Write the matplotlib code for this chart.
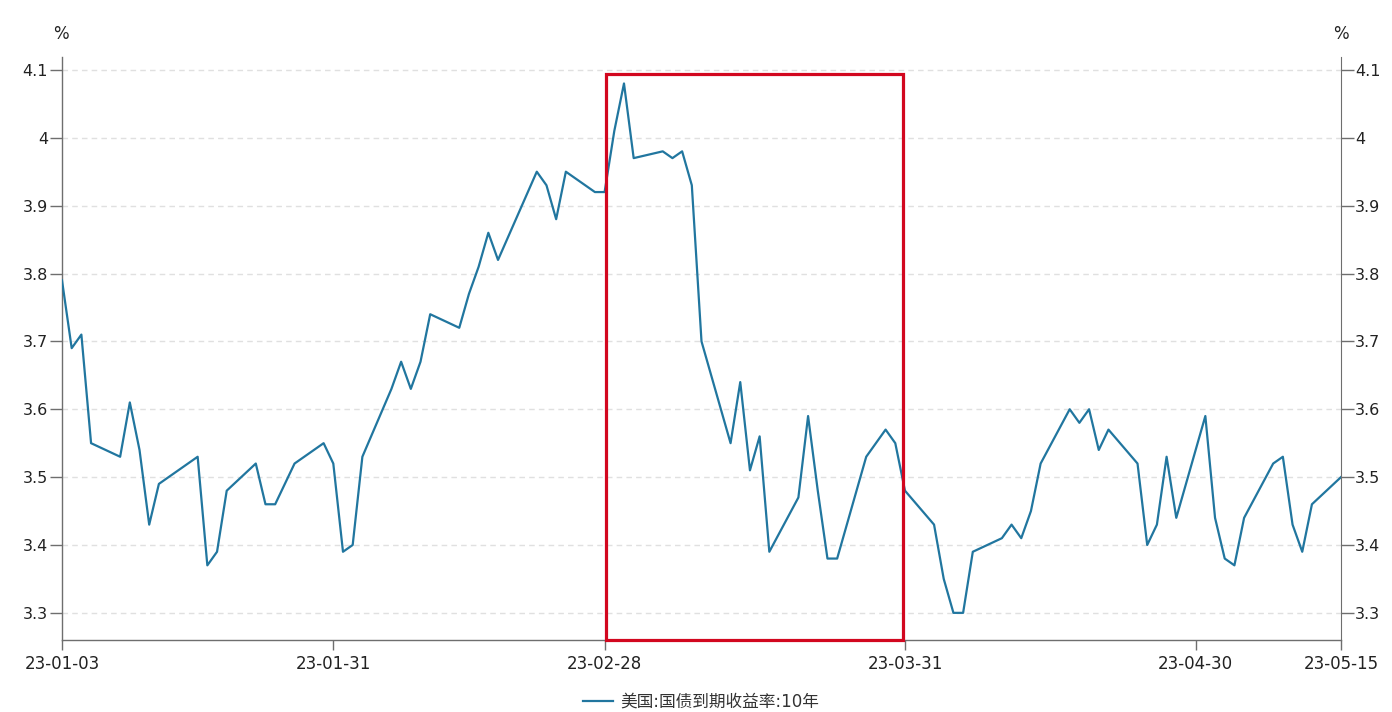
import matplotlib
matplotlib.use("Agg")
import matplotlib.pyplot as plt
import matplotlib.dates as mdates
from matplotlib.patches import Rectangle
import pandas as pd

plt.rcParams['font.family'] = ['DejaVu Sans', 'Noto Sans CJK SC']

# US 10y treasury yield
dates = [
    "2023-01-03", "2023-01-04", "2023-01-05", "2023-01-06", "2023-01-09", "2023-01-10",
    "2023-01-11", "2023-01-12", "2023-01-13", "2023-01-17", "2023-01-18", "2023-01-19",
    "2023-01-20", "2023-01-23", "2023-01-24", "2023-01-25", "2023-01-26", "2023-01-27",
    "2023-01-30", "2023-01-31", "2023-02-01", "2023-02-02", "2023-02-03", "2023-02-06",
    "2023-02-07", "2023-02-08", "2023-02-09", "2023-02-10", "2023-02-13", "2023-02-14",
    "2023-02-15", "2023-02-16", "2023-02-17", "2023-02-21", "2023-02-22", "2023-02-23",
    "2023-02-24", "2023-02-27", "2023-02-28", "2023-03-01", "2023-03-02", "2023-03-03",
    "2023-03-06", "2023-03-07", "2023-03-08", "2023-03-09", "2023-03-10", "2023-03-13",
    "2023-03-14", "2023-03-15", "2023-03-16", "2023-03-17", "2023-03-20", "2023-03-21",
    "2023-03-22", "2023-03-23", "2023-03-24", "2023-03-27", "2023-03-28", "2023-03-29",
    "2023-03-30", "2023-03-31", "2023-04-03", "2023-04-04", "2023-04-05", "2023-04-06",
    "2023-04-07", "2023-04-10", "2023-04-11", "2023-04-12", "2023-04-13", "2023-04-14",
    "2023-04-17", "2023-04-18", "2023-04-19", "2023-04-20", "2023-04-21", "2023-04-24",
    "2023-04-25", "2023-04-26", "2023-04-27", "2023-04-28", "2023-05-01", "2023-05-02",
    "2023-05-03", "2023-05-04", "2023-05-05", "2023-05-08", "2023-05-09", "2023-05-10",
    "2023-05-11", "2023-05-12", "2023-05-15",
]
yields = [
    3.79, 3.69, 3.71, 3.55, 3.53, 3.61,
    3.54, 3.43, 3.49, 3.53, 3.37, 3.39,
    3.48, 3.52, 3.46, 3.46, 3.49, 3.52,
    3.55, 3.52, 3.39, 3.40, 3.53, 3.63,
    3.67, 3.63, 3.67, 3.74, 3.72, 3.77,
    3.81, 3.86, 3.82, 3.95, 3.93, 3.88,
    3.95, 3.92, 3.92, 4.01, 4.08, 3.97,
    3.98, 3.97, 3.98, 3.93, 3.70, 3.55,
    3.64, 3.51, 3.56, 3.39, 3.47, 3.59,
    3.48, 3.38, 3.38, 3.53, 3.55, 3.57,
    3.55, 3.48, 3.43, 3.35, 3.30, 3.30,
    3.39, 3.41, 3.43, 3.41, 3.45, 3.52,
    3.60, 3.58, 3.60, 3.54, 3.57, 3.52,
    3.40, 3.43, 3.53, 3.44, 3.59, 3.44,
    3.38, 3.37, 3.44, 3.52, 3.53, 3.43,
    3.39, 3.46, 3.50,
]
xtick_dates = ["2023-01-03", "2023-01-31", "2023-02-28", "2023-03-31", "2023-04-30", "2023-05-15"]
yticks = [3.3, 3.4, 3.5, 3.6, 3.7, 3.8, 3.9, 4.0, 4.1]
ytick_labels = ["3.3", "3.4", "3.5", "3.6", "3.7", "3.8", "3.9", "4", "4.1"]
highlight = ["2023-02-28", "2023-03-31"]
series_name = "美国:国债到期收益率:10年"

x = pd.to_datetime(dates)
line_color = "#21769f"
spine_color = "#6e6e6e"
text_color = "#222222"

fig = plt.figure(figsize=(13.92, 7.12), dpi=100)
ax = fig.add_axes([62 / 1392, 72 / 712, 1279 / 1392, 583 / 712])

ax.plot(x, yields, color=line_color, linewidth=1.6, label=series_name, zorder=3)

ymin, ymax = 3.26, 4.119
ax.set_ylim(ymin, ymax)
ax.set_xlim(pd.Timestamp(xtick_dates[0]), pd.Timestamp(xtick_dates[-1]))

ax.set_yticks(yticks)
ax.set_yticklabels(ytick_labels)
ax.set_xticks(pd.to_datetime(xtick_dates))
ax.xaxis.set_major_formatter(mdates.DateFormatter("%y-%m-%d"))

ax.grid(axis="y", color="#e0e0e0", linestyle=(0, (4, 3)), linewidth=1.0)
ax.set_axisbelow(True)

for side in ["top", "right"]:
    ax.spines[side].set_visible(False)
for side in ["left", "bottom"]:
    ax.spines[side].set_color(spine_color)
    ax.spines[side].set_linewidth(1.0)

ax.tick_params(axis="y", length=9, width=1, color=spine_color, pad=1,
               labelsize=11.5, labelcolor=text_color)
ax.tick_params(axis="x", length=7.5, width=1, color=spine_color, pad=3,
               labelsize=12, labelcolor=text_color)

ax2 = ax.twinx()
ax2.set_ylim(ymin, ymax)
ax2.set_yticks(yticks)
ax2.set_yticklabels(ytick_labels)
for side in ["top", "left", "bottom"]:
    ax2.spines[side].set_visible(False)
ax2.spines["right"].set_color(spine_color)
ax2.tick_params(axis="y", length=9, width=1, color=spine_color, pad=1,
                labelsize=11.5, labelcolor=text_color)

# unit labels
fig.text(61 / 1392, 1 - 34 / 712, "%", ha="center", va="center", fontsize=12, color=text_color)
fig.text(1341 / 1392, 1 - 34 / 712, "%", ha="center", va="center", fontsize=12, color=text_color)

# red highlight box (hand-placed, a touch inside the month-end ticks)
x0 = mdates.date2num(pd.Timestamp(highlight[0])) + 0.15
x1 = mdates.date2num(pd.Timestamp(highlight[1])) - 0.2
box = Rectangle((x0, ymin), x1 - x0, 4.094 - ymin, fill=False,
                edgecolor="#d2071f", linewidth=2.3, clip_on=False, zorder=4)
ax.add_patch(box)

leg = fig.legend(loc="center", bbox_to_anchor=(701 / 1392, 10 / 712), frameon=False,
                 handlelength=1.8, handletextpad=0.45,
                 prop={"family": ["DejaVu Sans", "Noto Sans CJK SC"], "size": 12})
for t in leg.get_texts():
    t.set_color("#333333")

fig.savefig("out.png", dpi=100)
